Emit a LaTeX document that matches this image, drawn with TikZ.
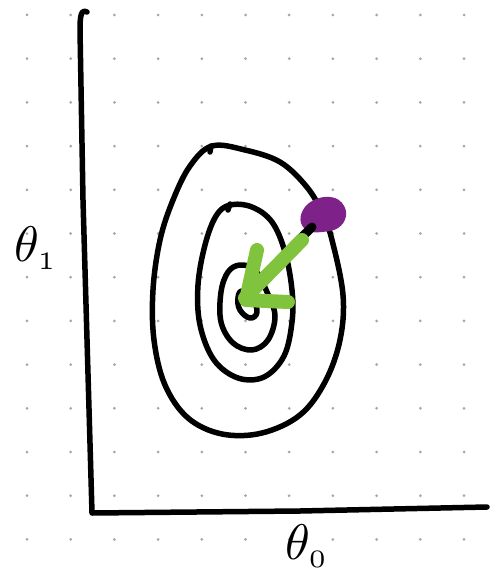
\documentclass[tikz,border=0pt]{standalone}
\definecolor{leafgreen}{RGB}{128,196,62}
\definecolor{plum}{RGB}{126,34,138}
\tikzset{pen/.style={line width=5.5pt, line cap=round, line join=round},
  marker/.style={leafgreen, line width=14pt, line cap=round, line join=round},
  griddot/.style={fill=black!35},
  axislabel/.style={scale=5, inner sep=0pt}}
\begin{document}
\begin{tikzpicture}[x=1pt,y=-1pt]
    \useasboundingbox[fill=white] (0,0) rectangle (495,575);
    \foreach \i in {0,...,10}
      \foreach \j in {0,...,12}
        \fill[griddot] (27+43.7*\i,15+43.7*\j) circle(1.5);

    \draw[pen] (87,12) .. controls (81,9) and (80,16) .. (80,30) -- (83,200) -- (92,513) -- (300,511) -- (487,507);

    \draw[pen] plot[smooth cycle, tension=.6] coordinates {(212,146) (245,150) (280,162) (306,186) (322,212) (332,240) (343,295) (340,340) (325,382) (300,415) (262,433) (222,434) (188,418) (165,385) (154,340) (153,290) (160,240) (173,200) (190,166)};
    \draw[pen] (210,152) -- (211,146);

    \draw[pen] plot[smooth cycle, tension=.6] coordinates {(230,205) (252,207) (272,222) (285,252) (292,290) (292,322) (284,356) (264,377) (238,378) (214,360) (200,325) (198,285) (205,245) (216,216)};
    \draw[pen] (228,210) -- (230,204);

    \draw[pen] plot[smooth cycle, tension=.6] coordinates {(240,265) (255,270) (267,292) (275,316) (268,340) (252,350) (233,343) (221,322) (221,292) (228,272)};

    \draw[pen] plot[smooth cycle, tension=.7] coordinates {(242,291) (252,298) (257,312) (250,318) (240,310) (238,298)};

    \fill[plum] plot[smooth cycle, tension=.7] coordinates {(303,210) (314,200) (330,197) (342,203) (346,216) (338,228) (322,232) (309,231) (301,223)};
    \draw[line width=9pt, line cap=round] (301,238) -- (312,227);

    \coordinate (start) at (302,240);
    \coordinate (tip) at (245,298);
    \draw[marker] (start) -- (tip);
    \draw[marker] (257,250) -- (246,300) -- (288,302);

    \node[axislabel] (thetaone) at (36,248) {$\theta_{\scriptscriptstyle 1}$};
    \node[axislabel] (thetazero) at (307,546) {$\theta_{\scriptscriptstyle 0}$};
\end{tikzpicture}
\end{document}
